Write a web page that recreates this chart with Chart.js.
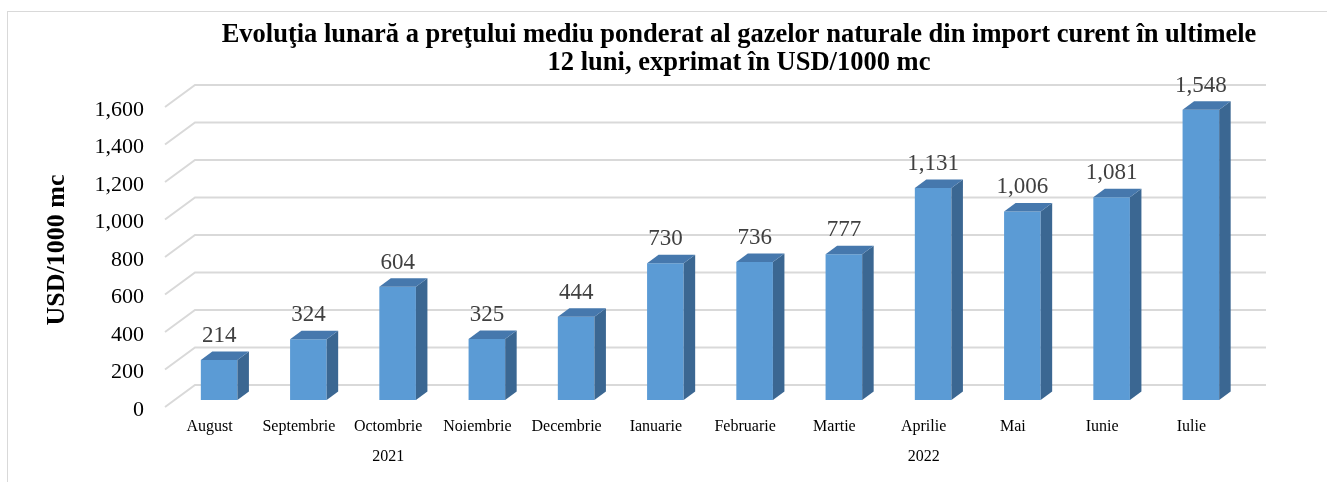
<!DOCTYPE html>
<html>
<head>
<meta charset="utf-8">
<script src="https://cdn.jsdelivr.net/npm/chart.js@4"></script>
<style>
  html, body { margin: 0; padding: 0; background: #fff; overflow: hidden; }
  #frame { position: absolute; left: 7px; top: 11px; width: 1400px; height: 600px; border: 1.5px solid #d9d9d9; }
  #wrap { position: absolute; left: 0; top: 0; width: 1327px; height: 482px; }
</style>
</head>
<body>
<div id="frame"></div>
<div id="wrap"><canvas id="myChart"></canvas></div>
<script>
const months = ['August', 'Septembrie', 'Octombrie', 'Noiembrie', 'Decembrie', 'Ianuarie',
  'Februarie', 'Martie', 'Aprilie', 'Mai', 'Iunie', 'Iulie'];
const years = ['', '', '2021', '', '', '', '', '', '2022', '', '', ''];
const prices = [214, 324, 604, 325, 444, 730, 736, 777, 1131, 1006, 1081, 1548];
const titleLines = [
  'Evoluţia lunară a preţului mediu ponderat al gazelor naturale din import curent în ultimele',
  '12 luni, exprimat în USD/1000 mc'
];

const serif = '"Liberation Serif", "Times New Roman", serif';
const fmt = v => v.toLocaleString('en-US');

// fake 3d: floor depth for the grid, smaller depth for the bars
const wall = { back: [20.5, 15], front: [-9.5, 7] };
const barDepth = [11.5, 8.5];

const depthPlugin = {
  id: 'depth',
  beforeDatasetsDraw(chart) {
    const { ctx, chartArea } = chart;
    const y = chart.scales.y;
    ctx.save();
    ctx.strokeStyle = '#d9d9d9';
    ctx.lineWidth = 2;
    y.ticks.forEach(t => {
      const py = y.getPixelForValue(t.value);
      ctx.beginPath();
      ctx.moveTo(chartArea.left + wall.front[0], py + wall.front[1]);
      ctx.lineTo(chartArea.left + wall.back[0], py - wall.back[1]);
      ctx.lineTo(chartArea.right + wall.back[0], py - wall.back[1]);
      ctx.stroke();
    });
    ctx.restore();
  },
  afterDatasetsDraw(chart) {
    const { ctx } = chart;
    const [dx, dy] = barDepth;
    const meta = chart.getDatasetMeta(0);
    ctx.save();
    meta.data.forEach((bar, i) => {
      const { x, y, base, width } = bar.getProps(['x', 'y', 'base', 'width'], true);
      const l = x - width / 2, r = x + width / 2;
      ctx.fillStyle = '#3b6792';
      ctx.beginPath();
      ctx.moveTo(r, y); ctx.lineTo(r + dx, y - dy); ctx.lineTo(r + dx, base - dy); ctx.lineTo(r, base);
      ctx.closePath(); ctx.fill();
      ctx.fillStyle = '#4678ad';
      ctx.beginPath();
      ctx.moveTo(l, y); ctx.lineTo(l + dx, y - dy); ctx.lineTo(r + dx, y - dy); ctx.lineTo(r, y);
      ctx.closePath(); ctx.fill();

      ctx.fillStyle = '#404040';
      ctx.font = '23px ' + serif;
      ctx.textAlign = 'center';
      ctx.textBaseline = 'middle';
      ctx.fillText(fmt(prices[i]), x, y - 24);
    });
    ctx.restore();
  },
  afterDraw(chart) {
    const { ctx } = chart;
    ctx.save();
    ctx.fillStyle = '#000';
    ctx.font = 'bold 26.5px ' + serif;
    ctx.textAlign = 'center';
    ctx.textBaseline = 'alphabetic';
    titleLines.forEach((line, i) => ctx.fillText(line, 739, 42 + i * 28));
    ctx.restore();
  }
};

new Chart(document.getElementById('myChart'), {
  type: 'bar',
  data: {
    labels: months,
    datasets: [{
      label: 'USD/1000 mc',
      data: prices,
      backgroundColor: '#5b9bd5',
      borderWidth: 0,
      categoryPercentage: 1,
      barPercentage: 0.41
    }]
  },
  options: {
    responsive: true,
    maintainAspectRatio: false,
    animation: false,
    layout: { padding: { left: 42, right: 81.5, top: 100, bottom: 14 } },
    plugins: {
      legend: { display: false },
      tooltip: { enabled: false }
    },
    scales: {
      x: {
        weight: 0,
        afterFit: s => { s.height = 38; },
        grid: { display: false, drawTicks: false },
        border: { display: false },
        ticks: {
          color: '#000',
          font: { family: serif, size: 16 },
          padding: 17.5,
          labelOffset: -9.5,
          autoSkip: false,
          maxRotation: 0
        }
      },
      x2: {
        type: 'category',
        labels: years,
        position: 'bottom',
        offset: true,
        weight: 1,
        afterFit: s => { s.height = 30; },
        grid: { display: false, drawTicks: false },
        border: { display: false },
        ticks: {
          color: '#000',
          font: { family: serif, size: 16 },
          padding: 9.5,
          labelOffset: -9.5,
          autoSkip: false,
          maxRotation: 0
        }
      },
      y: {
        min: 0,
        max: 1600,
        afterFit: s => { s.width = 132.5; },
        grid: { display: false, drawTicks: false },
        border: { display: false },
        ticks: {
          stepSize: 200,
          color: '#000',
          font: { family: serif, size: 22 },
          padding: 30.5,
          labelOffset: 10,
          callback: v => fmt(v)
        },
        title: {
          display: true,
          text: 'USD/1000 mc',
          color: '#000',
          font: { family: serif, size: 26, weight: 'bold' },
          padding: 0
        }
      }
    }
  },
  plugins: [depthPlugin]
});
</script>
</body>
</html>
